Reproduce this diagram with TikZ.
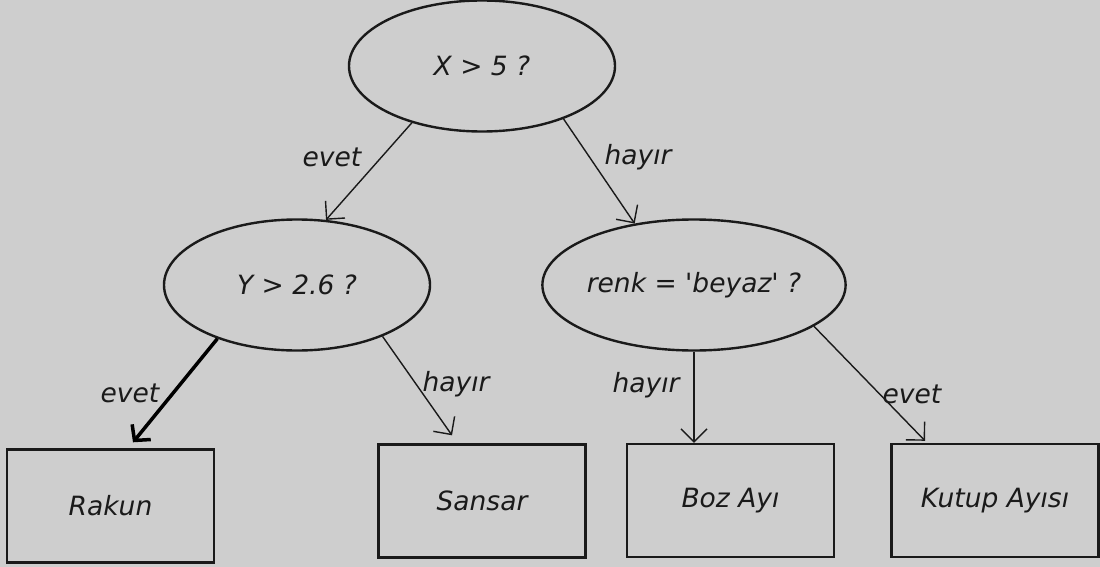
\documentclass[tikz,border=0pt]{standalone}
\usepackage{fontspec}
\setmainfont{DejaVu Sans}[Ligatures=TeXOff]
\usetikzlibrary{arrows.meta,calc,shapes.geometric}
\definecolor{bgc}{HTML}{CECECE}
\definecolor{ink}{HTML}{1A1A1A}
\begin{document}
\begin{tikzpicture}[x=1pt,y=-1pt,
  every node/.style={font=\fontsize{26.5}{30}\selectfont\itshape, text=ink},
  dec/.style={ellipse, draw=ink, line width=2.4pt, minimum width=266pt, minimum height=131pt, inner sep=0pt},
  leaf/.style={rectangle, draw=ink, line width=2.4pt, minimum width=207pt, minimum height=113pt, inner sep=0pt},
  conn/.style={draw=ink, line width=1.4pt, -{Straight Barb[length=13pt,width=26pt,line width=1.4pt]}},
  boldconn/.style={draw=black, line width=3.5pt, -{Straight Barb[length=11pt,width=24pt,line width=3.5pt]}},
  lbl/.style={inner sep=0pt}]
\fill[bgc] (0,0) rectangle (1100,567);
\useasboundingbox (0,0) rectangle (1100,567);

% decision nodes
\node[dec] (a) at (482,66) {X > 5 ?};
\node[dec] (b) at (297,285) {Y > 2.6 ?};
\node[dec] (c) at (694,285) {renk = 'beyaz' ?};

% leaves
\node[leaf] (r) at (110.5,506) {Rakun};
\node[leaf] (s) at (482,501) {Sansar};
\node[leaf] (z) at (730.5,500.5) {Boz Ayı};
\node[leaf] (k) at (995,500.5) {Kutup Ayısı};

% connector end points
\coordinate (rt) at ($(r.north)+(22.5,-6)$);
\coordinate (st) at ($(s.north)+(-30,-8)$);
\coordinate (kt) at ($(k.north)+(-70,-2)$);

% connectors
\draw[conn] (a.219.8) -- (b.66.2);
\draw[conn] (a.327) -- (c.134.1);
\draw[boldconn] (b.214.4) -- (rt);
\draw[conn] (b.329.3) -- (st);
\draw[conn] (c.south) -- (c.south |- z.north);
\draw[conn] (c.341.1) -- (kt);

% labels
\node[lbl] (l1) at (332,157) {evet};
\node[lbl] (l2) at (638,157) {hayır};
\node[lbl] (l3) at (130,393) {evet};
\node[lbl] (l4) at (456,384) {hayır};
\node[lbl] (l5) at (646,385) {hayır};
\node[lbl] (l6) at (912,394) {evet};
\end{tikzpicture}
\end{document}
